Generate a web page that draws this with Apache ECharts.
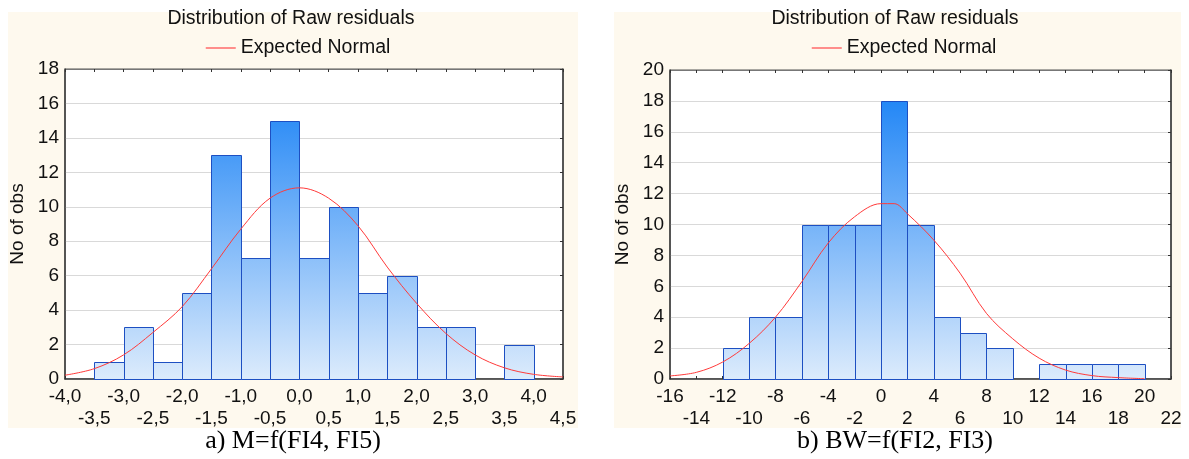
<!DOCTYPE html>
<html>
<head>
<meta charset="utf-8">
<script src="https://cdn.jsdelivr.net/npm/echarts@6/dist/echarts.min.js"></script>
<style>
  html, body { margin: 0; padding: 0; background: #ffffff; }
  #chart { width: 1189px; height: 459px; }
</style>
</head>
<body>
<div id="chart"></div>
<script>
// ---------- Data ----------
// Panel a) M=f(FI4, FI5): histogram bin edges (width 0.5) and counts
var binEdgesA = [-4.0, -3.5, -3.0, -2.5, -2.0, -1.5, -1.0, -0.5, 0.0, 0.5, 1.0, 1.5, 2.0, 2.5, 3.0, 3.5, 4.0, 4.5];
var countsA   = [0, 1, 3, 1, 5, 13, 7, 15, 7, 10, 5, 6, 3, 3, 0, 2, 0];
// Expected normal curve (panel a)
var curveXA = [-4.0, -3.5, -3.0, -2.5, -2.0, -1.5, -1.0, -0.5, 0.0, 0.5, 1.0, 1.5, 2.0, 2.5, 3.0, 3.5, 4.0, 4.5];
var curveYA = [0.22, 0.6, 1.4, 2.7, 4.2, 6.4, 8.7, 10.5, 11.1, 10.5, 8.9, 6.5, 4.4, 2.65, 1.4, 0.65, 0.27, 0.12];

// Panel b) BW=f(FI2, FI3): histogram bin edges (width 2) and counts
var binEdgesB = [-16, -14, -12, -10, -8, -6, -4, -2, 0, 2, 4, 6, 8, 10, 12, 14, 16, 18, 20, 22];
var countsB   = [0, 0, 2, 4, 4, 10, 10, 10, 18, 10, 4, 3, 2, 0, 1, 1, 1, 1, 0];
// Expected normal curve (panel b)
var curveXB = [-16, -14, -12, -10, -8, -6, -4, -2, 0, 1, 2, 4, 6, 8, 10, 12, 14, 16, 18, 20];
var curveYB = [0.2, 0.43, 1.1, 2.3, 4.0, 6.3, 8.8, 10.5, 11.35, 11.35, 10.7, 9.0, 6.85, 4.25, 2.6, 1.35, 0.58, 0.22, 0.09, 0.02];

// Axis tick settings
var xTicksA = { min: -4.0, max: 4.5, interval: 0.5 };
var yTicksA = { min: 0, max: 18, interval: 2 };
var xTicksB = { min: -16, max: 22, interval: 2 };
var yTicksB = { min: 0, max: 20, interval: 2 };

var seriesName = 'Expected Normal';
var chartTitle = 'Distribution of Raw residuals';
var yAxisTitle = 'No of obs';
var captionA = 'a) M=f(FI4, FI5)';
var captionB = 'b) BW=f(FI2, FI3)';

// ---------- Build ----------
function binsOf(edges, counts) {
  var out = [];
  for (var i = 0; i < counts.length; i++) out.push([edges[i], edges[i + 1], counts[i]]);
  return out;
}
function pairs(xs, ys) {
  var out = [];
  for (var i = 0; i < xs.length; i++) out.push([xs[i], ys[i]]);
  return out;
}
// row = 0: labels at even tick indices; row = 1: labels at odd tick indices
function rowFmt(decimals, row) {
  return function (v, idx) {
    if (idx % 2 !== row) return '';
    return decimals ? v.toFixed(decimals).replace('.', ',') : String(v);
  };
}

var GRIDS = [
  { left: 65, top: 69, width: 498, height: 310 },
  { left: 670, top: 70, width: 501, height: 309 }
];

function barRender(gridIdx) {
  var g = GRIDS[gridIdx];
  return function (params, api) {
    var lo = api.value(0), hi = api.value(1), c = api.value(2);
    if (!c) return null;
    var p1 = api.coord([lo, c]);
    var p2 = api.coord([hi, 0]);
    var x1 = Math.round(p1[0]), x2 = Math.round(p2[0]);
    var y1 = Math.round(p1[1]), y2 = Math.round(p2[1]);
    return {
      type: 'rect',
      shape: { x: x1 + 0.5, y: y1 + 0.5, width: x2 - x1, height: y2 - y1 },
      style: {
        fill: new echarts.graphic.LinearGradient(0, g.top, 0, g.top + g.height, [
          { offset: 0, color: '#0f7cf5' },
          { offset: 1, color: '#dcebfc' }
        ], true),
        stroke: '#1d4fc2',
        lineWidth: 1
      }
    };
  };
}

var FONT = '"Liberation Sans", Arial, sans-serif';
var TICK_FS = 19;
var labelStyle = { color: '#111', fontSize: TICK_FS, fontFamily: FONT };

function xAxes(gridIndex, t, decimals) {
  return [
    {
      gridIndex: gridIndex, type: 'value', position: 'bottom',
      min: t.min, max: t.max, interval: t.interval,
      axisLine: { show: true, onZero: false, lineStyle: { color: '#3a3a3a', width: 1.5 } },
      axisTick: { show: true, inside: true, length: 3, lineStyle: { color: '#333' } },
      splitLine: { show: false },
      axisLabel: Object.assign({ margin: 8, formatter: rowFmt(decimals, 0), showMinLabel: true, showMaxLabel: true }, labelStyle)
    },
    {
      gridIndex: gridIndex, type: 'value', position: 'bottom',
      min: t.min, max: t.max, interval: t.interval,
      axisLine: { show: false, onZero: false },
      axisTick: { show: false },
      splitLine: { show: false },
      axisLabel: Object.assign({ margin: 30, formatter: rowFmt(decimals, 1), showMinLabel: true, showMaxLabel: true }, labelStyle)
    },
    {
      gridIndex: gridIndex, type: 'value', position: 'top',
      min: t.min, max: t.max, interval: t.interval,
      axisLine: { show: true, onZero: false, lineStyle: { color: '#777', width: 1 } },
      axisTick: { show: true, inside: true, length: 3, lineStyle: { color: '#333' } },
      splitLine: { show: false },
      axisLabel: { show: false }
    }
  ];
}
function yAxes(gridIndex, t) {
  return [
    {
      gridIndex: gridIndex, type: 'value', position: 'left',
      min: t.min, max: t.max, interval: t.interval,
      name: yAxisTitle, nameLocation: 'middle', nameGap: 38,
      nameTextStyle: { color: '#111', fontSize: 19, fontFamily: FONT },
      axisLine: { show: true, onZero: false, lineStyle: { color: '#3a3a3a', width: 1.5 } },
      axisTick: { show: false },
      splitLine: { show: true, lineStyle: { color: '#d9d9d9', width: 1 } },
      axisLabel: Object.assign({ margin: 6 }, labelStyle)
    },
    {
      gridIndex: gridIndex, type: 'value', position: 'right',
      min: t.min, max: t.max, interval: t.interval,
      axisLine: { show: true, onZero: false, lineStyle: { color: '#3a3a3a', width: 1.5 } },
      axisTick: { show: true, inside: true, length: 3, lineStyle: { color: '#333' } },
      splitLine: { show: false },
      axisLabel: { show: false }
    }
  ];
}

var chart = echarts.init(document.getElementById('chart'), null, { renderer: 'canvas' });

var legendBase = {
  top: 33, itemWidth: 30, itemHeight: 14, itemGap: 8, selectedMode: false,
  data: [seriesName],
  itemStyle: { color: 'rgba(0,0,0,0)', borderWidth: 0, opacity: 0 },
  lineStyle: { color: '#ff6a6a', width: 1.5 },
  textStyle: { color: '#111', fontSize: 19.5, fontFamily: FONT }
};

var CAPTION_FONT = '26px "Liberation Serif", "Times New Roman", serif';
var TITLE_FONT = '19.5px ' + FONT;

var option = {
  backgroundColor: '#ffffff',
  animation: false,
  graphic: [
    { type: 'rect', z: -100, shape: { x: 8, y: 12, width: 570, height: 416 }, style: { fill: '#fef9ee' } },
    { type: 'rect', z: -100, shape: { x: 614, y: 12, width: 567, height: 416 }, style: { fill: '#fef9ee' } },
    { type: 'text', x: 291, y: 19, style: { text: chartTitle, align: 'center', verticalAlign: 'middle', font: TITLE_FONT, fill: '#111' } },
    { type: 'text', x: 895, y: 19, style: { text: chartTitle, align: 'center', verticalAlign: 'middle', font: TITLE_FONT, fill: '#111' } },
    { type: 'text', x: 293, y: 441, style: { text: captionA, align: 'center', verticalAlign: 'middle', font: CAPTION_FONT, fill: '#000' } },
    { type: 'text', x: 895, y: 441, style: { text: captionB, align: 'center', verticalAlign: 'middle', font: CAPTION_FONT, fill: '#000' } }
  ],
  legend: [
    Object.assign({ left: 200 }, legendBase),
    Object.assign({ left: 806 }, legendBase)
  ],
  grid: GRIDS.map(function (g) {
    return Object.assign({ show: true, backgroundColor: '#ffffff', borderColor: '#555', borderWidth: 1 }, g);
  }),
  xAxis: xAxes(0, xTicksA, 1).concat(xAxes(1, xTicksB, 0)),
  yAxis: yAxes(0, yTicksA).concat(yAxes(1, yTicksB)),
  series: [
    { type: 'custom', name: 'hist a', xAxisIndex: 0, yAxisIndex: 0, renderItem: barRender(0), data: binsOf(binEdgesA, countsA), encode: { x: [0, 1], y: 2 }, z: 2 },
    { type: 'line', name: seriesName, xAxisIndex: 0, yAxisIndex: 0, data: pairs(curveXA, curveYA), smooth: 0.35, symbol: 'none', lineStyle: { color: '#ff3a3a', width: 1 }, itemStyle: { color: '#ff3a3a' }, z: 3 },
    { type: 'custom', name: 'hist b', xAxisIndex: 3, yAxisIndex: 2, renderItem: barRender(1), data: binsOf(binEdgesB, countsB), encode: { x: [0, 1], y: 2 }, z: 2 },
    { type: 'line', name: seriesName, xAxisIndex: 3, yAxisIndex: 2, data: pairs(curveXB, curveYB), smooth: 0.35, symbol: 'none', lineStyle: { color: '#ff3a3a', width: 1 }, itemStyle: { color: '#ff3a3a' }, z: 3 }
  ]
};
chart.setOption(option);
</script>
</body>
</html>
